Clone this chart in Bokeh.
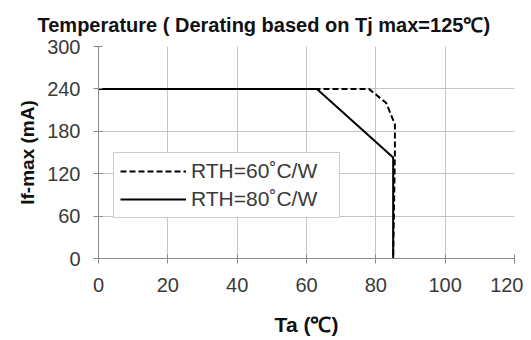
from bokeh.plotting import figure
from bokeh.models import Title, FixedTicker, Legend, LegendItem
from bokeh.embed import file_html
from bokeh.resources import INLINE

# Data
ta_60 = [0, 78, 83, 85.5, 85.5, 85]
if_60 = [240, 240, 220, 190, 150, 0]
ta_80 = [0, 63, 85, 85]
if_80 = [240, 240, 143, 0]
x_ticks = [0, 20, 40, 60, 80, 100, 120]
y_ticks = [0, 60, 120, 180, 240, 300]
label_60 = "RTH=60\u02daC/W"
label_80 = "RTH=80\u02daC/W"
x_title = "Ta (\u2103)"
y_title = "If-max (mA)"

FONT = "Liberation Sans"
GREY_TXT = "#3a3a3a"

p = figure(width=523, height=340, x_range=(0, 120), y_range=(0, 300),
           output_backend="svg", toolbar_location=None,
           min_border_left=98, min_border_right=9, min_border_top=46, min_border_bottom=82)
p.outline_line_color = None
p.background_fill_color = "white"
p.border_fill_color = "white"

t = Title(text="Temperature ( Derating based on Tj max=125\u2103)", align="left",
          offset=-61, text_font=FONT, text_font_size="20px", text_font_style="bold",
          text_color="#111111", standoff=18, vertical_align="top")
p.title = t

r60 = p.line(ta_60, if_60, line_color="black", line_width=2, line_dash="6 3")
r80 = p.line(ta_80, if_80, line_color="black", line_width=2)

for ax in (p.xaxis[0], p.yaxis[0]):
    ax.axis_line_color = "#8a8a8a"
    ax.major_tick_line_color = "#8a8a8a"
    ax.minor_tick_line_color = None
    ax.major_tick_in = 4
    ax.major_tick_out = 5
    ax.major_label_text_font = FONT
    ax.major_label_text_font_size = "20px"
    ax.major_label_text_color = GREY_TXT
    ax.axis_label_text_font = FONT
    ax.axis_label_text_font_size = "19px"
    ax.axis_label_text_font_style = "bold"
    ax.axis_label_text_color = "#111111"

p.xaxis.ticker = FixedTicker(ticks=x_ticks)
p.yaxis.ticker = FixedTicker(ticks=y_ticks)
p.xaxis.axis_label = x_title
p.yaxis.axis_label = y_title
p.xaxis.axis_label_text_font_size = "21px"
p.xaxis.major_label_standoff = 14
p.yaxis.major_label_standoff = 13
p.xaxis.axis_label_standoff = 18
p.yaxis.axis_label_standoff = 6

p.xgrid.ticker = FixedTicker(ticks=x_ticks)
p.ygrid.ticker = FixedTicker(ticks=y_ticks)
p.grid.grid_line_color = "#c4c4c4"
p.grid.grid_line_width = 1

legend = Legend(items=[LegendItem(label=label_60, renderers=[r60]),
                       LegendItem(label=label_80, renderers=[r80])],
                location=(15, 40), glyph_width=66, glyph_height=20, label_height=20,
                label_width=142,
                label_text_font=FONT, label_text_font_size="21px",
                label_text_color=GREY_TXT, label_standoff=5, padding=6,
                margin=0, spacing=4, border_line_color="#9a9a9a",
                background_fill_color="white", background_fill_alpha=1.0)
p.add_layout(legend, "center")

open("out.html", "w").write(file_html(p, INLINE))
